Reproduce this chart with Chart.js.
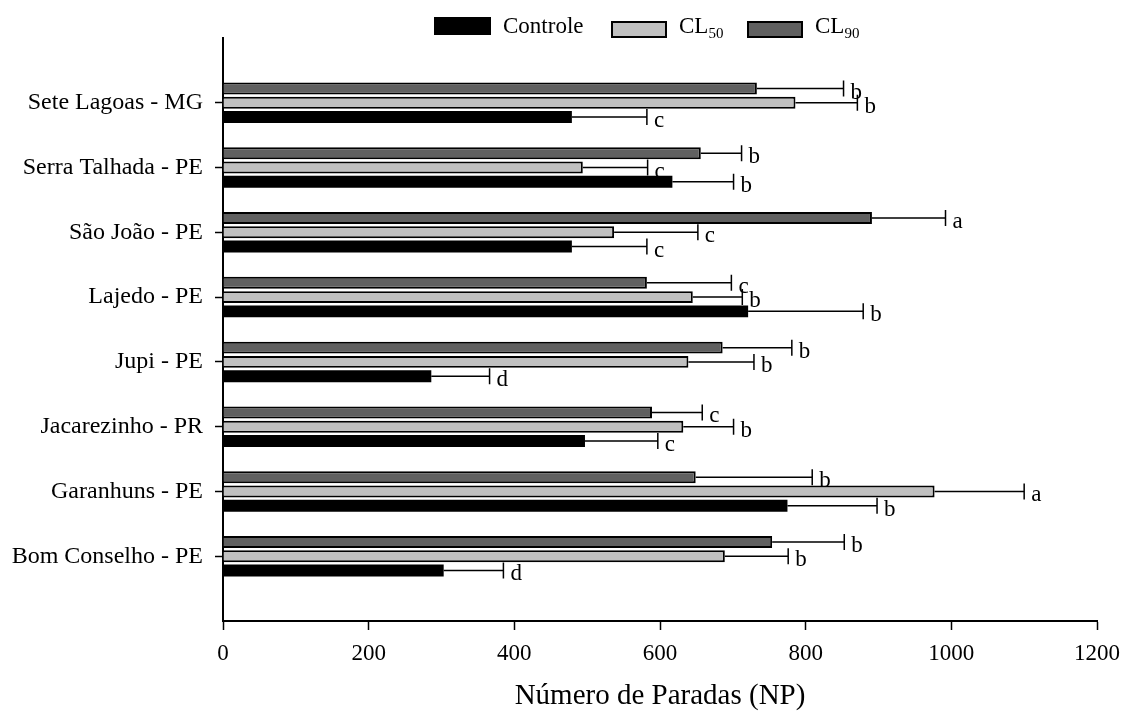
<!DOCTYPE html>
<html lang="pt">
<head>
<meta charset="utf-8">
<title>Número de Paradas (NP)</title>
<script src="https://cdn.jsdelivr.net/npm/chart.js@4/dist/chart.umd.min.js"></script>
<style>
  html, body { margin: 0; padding: 0; background: #fff; }
  #wrap { position: relative; width: 1123px; height: 718px; }
  #legend {
    position: absolute; top: 0; left: 0; width: 100%; height: 40px;
    font-family: "Liberation Serif", "Times New Roman", serif; font-size: 23px; color: #000;
  }
  #legend .box { position: absolute; box-sizing: border-box; }
  #legend .txt { position: absolute; top: 13px; line-height: 26px; white-space: nowrap; }
  #legend sub { font-size: 15px; vertical-align: -5px; line-height: 0; }
</style>
</head>
<body>
<div id="wrap">
  <canvas id="paradasChart"></canvas>
  <div id="legend">
    <div class="box" style="left:434px;top:17px;width:57px;height:18px;background:#000;"></div>
    <div class="txt" style="left:503px;">Controle</div>
    <div class="box" style="left:611px;top:21px;width:56px;height:17px;background:#c0c0c0;border:2px solid #000;"></div>
    <div class="txt" style="left:679px;">CL<sub>50</sub></div>
    <div class="box" style="left:747px;top:21px;width:56px;height:17px;background:#606060;border:2px solid #000;"></div>
    <div class="txt" style="left:815px;">CL<sub>90</sub></div>
  </div>
</div>
<script>
// 지역별 정지 횟수 (평균 + 표준편차, 문자 = 유의성 그룹)
const locais = [
  "Sete Lagoas - MG",
  "Serra Talhada - PE",
  "São João - PE",
  "Lajedo - PE",
  "Jupi - PE",
  "Jacarezinho - PR",
  "Garanhuns - PE",
  "Bom Conselho - PE",
];

const cl90 = [733, 656, 891, 582, 686, 589, 649, 754];
const cl90Erro = [119, 56, 101, 116, 95, 69, 160, 99];
const cl90Letras = ["b", "b", "a", "c", "b", "c", "b", "b"];

const cl50 = [786, 494, 537, 645, 639, 632, 977, 689];
const cl50Erro = [85, 89, 115, 68, 90, 69, 123, 87];
const cl50Letras = ["b", "c", "c", "b", "b", "b", "a", "b"];

const controle = [479, 617, 479, 721, 286, 497, 775, 303];
const controleErro = [103, 84, 103, 158, 80, 100, 123, 82];
const controleLetras = ["c", "b", "c", "b", "d", "c", "b", "d"];

const xTicks = [0, 200, 400, 600, 800, 1000, 1200];

const FONT = "'Liberation Serif', 'Times New Roman', serif";

// 축 위아래 여백용 빈 카테고리
const pad = (arr) => [null, ...arr, null];
const yLabels = ["", ...locais, ""];

// 오차 막대 + 문자 표시 플러그인
const errorBarPlugin = {
  id: "errorBars",
  afterDatasetsDraw(chart) {
    const ctx = chart.ctx;
    const xScale = chart.scales.x;
    chart.data.datasets.forEach((ds, i) => {
      const meta = chart.getDatasetMeta(i);
      meta.data.forEach((bar, j) => {
        const v = ds.data[j];
        if (v === null || v === undefined) return;
        const err = ds.erro[j - 1];
        const endX = xScale.getPixelForValue(v + err);
        const y = bar.y;
        ctx.save();
        ctx.strokeStyle = "#000";
        ctx.lineWidth = 1.5;
        ctx.beginPath();
        ctx.moveTo(bar.x, y);
        ctx.lineTo(endX, y);
        ctx.moveTo(endX, y - 8);
        ctx.lineTo(endX, y + 8);
        ctx.stroke();
        ctx.fillStyle = "#000";
        ctx.font = "23px " + FONT;
        ctx.textAlign = "left";
        ctx.textBaseline = "alphabetic";
        ctx.fillText(ds.letras[j - 1], endX + 7, y + 10);
        ctx.restore();
      });
    });
  },
};

const ctx = document.getElementById("paradasChart").getContext("2d");
new Chart(ctx, {
  type: "bar",
  data: {
    labels: yLabels,
    datasets: [
      {
        label: "CL90",
        data: pad(cl90),
        erro: cl90Erro,
        letras: cl90Letras,
        backgroundColor: "#606060",
        borderColor: "#000",
        borderWidth: 2,
      },
      {
        label: "CL50",
        data: pad(cl50),
        erro: cl50Erro,
        letras: cl50Letras,
        backgroundColor: "#c0c0c0",
        borderColor: "#000",
        borderWidth: 2,
      },
      {
        label: "Controle",
        data: pad(controle),
        erro: controleErro,
        letras: controleLetras,
        backgroundColor: "#000",
        borderColor: "#000",
        borderWidth: 0,
      },
    ],
  },
  options: {
    indexAxis: "y",
    responsive: true,
    maintainAspectRatio: false,
    animation: false,
    barPercentage: 0.84,
    categoryPercentage: 0.66,
    layout: {
      padding: { top: 38, right: 26, left: 0, bottom: 0 },
    },
    plugins: {
      legend: { display: false },
      title: { display: false },
      tooltip: { enabled: false },
    },
    scales: {
      x: {
        min: 0,
        max: 1200,
        afterBuildTicks: (scale) => {
          scale.ticks = xTicks.map((v) => ({ value: v }));
        },
        afterFit: (scale) => {
          scale.height = 97;
          scale.paddingLeft = 0;
          scale.paddingRight = 0;
        },
        grid: {
          drawOnChartArea: false,
          drawTicks: true,
          tickLength: 9,
          tickWidth: 1.5,
          color: "#000",
        },
        border: { display: true, color: "#000", width: 2 },
        ticks: {
          color: "#000",
          padding: 10,
          maxRotation: 0,
          callback: (v) => String(v),
          font: { family: FONT, size: 23 },
        },
        title: {
          display: true,
          text: "Número de Paradas (NP)",
          color: "#000",
          font: { family: FONT, size: 29 },
          padding: { top: 0, bottom: 4 },
        },
      },
      y: {
        offset: false,
        afterFit: (scale) => {
          scale.width = 223;
        },
        grid: {
          offset: false,
          drawOnChartArea: false,
          drawTicks: true,
          tickLength: 8,
          tickWidth: 1.5,
          color: (c) =>
            c.index === 0 || c.index === yLabels.length - 1 ? "rgba(0,0,0,0)" : "#000",
        },
        border: { display: true, color: "#000", width: 2 },
        ticks: {
          color: "#000",
          padding: 12,
          autoSkip: false,
          font: { family: FONT, size: 24 },
        },
      },
    },
  },
  plugins: [errorBarPlugin],
});
</script>
</body>
</html>
